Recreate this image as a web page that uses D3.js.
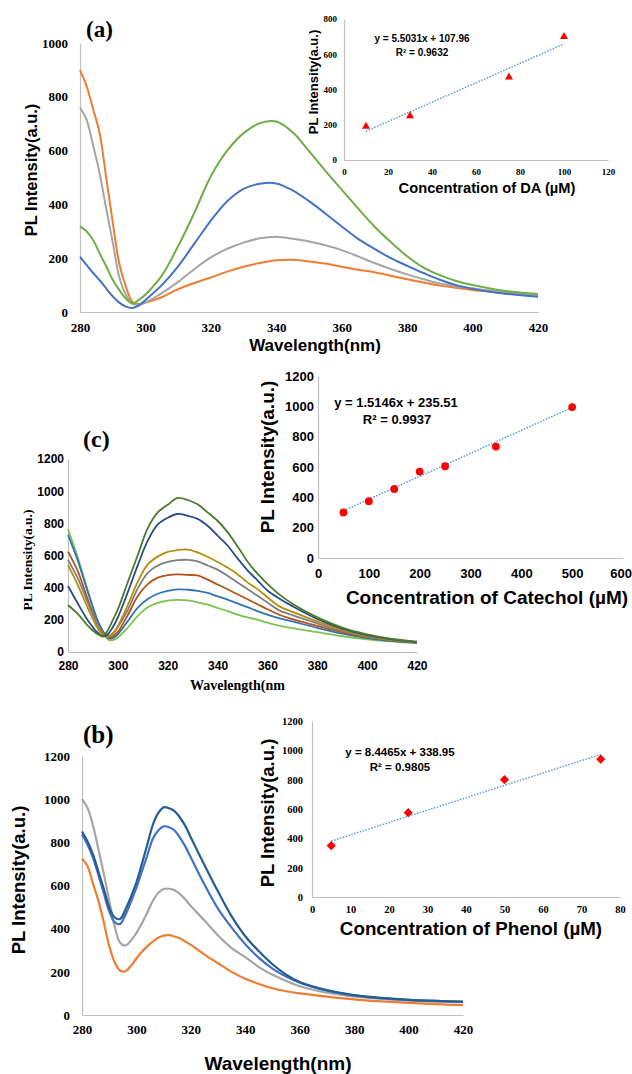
<!DOCTYPE html>
<html><head><meta charset="utf-8">
<script src="https://cdn.jsdelivr.net/npm/d3@7/dist/d3.min.js"></script>
<style>body{margin:0;background:#fff}svg{display:block}</style>
</head><body>
<script>
// ---------- Panel (a): DA ----------
const waveA = [280,282,284,286,288,290,292,294,296,298,300,305,310,315,320,325,330,335,340,345,350,355,360,365,370,375,380,385,390,395,400,405,410,415,420];
const aOrange = [900,840,755,665,500,335,180,95,38,30,35,55,85,108,128,150,168,182,192,194,188,180,168,157,148,135,122,110,98,90,82,76,70,65,60];
const aGray   = [760,715,620,516,385,260,130,65,30,27,35,70,112,160,203,235,258,274,280,272,262,248,230,207,182,160,140,122,106,96,88,80,72,66,60];
const aBlue   = [205,175,145,118,88,58,35,20,15,25,45,100,170,255,340,412,458,477,478,452,412,366,318,272,235,200,172,145,120,100,86,76,68,62,57];
const aGreen  = [318,300,268,218,170,120,82,50,32,45,65,135,245,370,505,600,665,702,708,668,598,525,455,385,318,260,207,165,137,115,100,88,78,72,67];
const aXTicks = [280,300,320,340,360,380,400,420];
const aYTicks = [0,200,400,600,800,1000];
const daConc = [10,30,75,100];
const daPL   = [190,250,470,700];
const daFit  = [5.5031,107.96];
const daXTicks = [0,20,40,60,80,100,120];
const daYTicks = [0,200,400,600,800];

// ---------- Panel (c): Catechol ----------
const waveC = [280,284,288,292,294,296,298,300,304,308,312,316,320,324,328,332,336,340,344,348,352,356,360,365,370,380,390,400,410,420];
const cDarkGreen  = [292,235,163,110,100,135,200,265,435,603,770,868,915,958,945,918,868,816,745,657,563,487,424,355,300,215,152,110,82,65];
const cDarkBlue   = [410,300,196,118,96,110,155,215,372,540,692,793,835,858,847,828,785,724,662,582,508,446,382,330,285,205,145,105,78,62];
const cGold       = [540,415,272,145,105,92,110,160,292,437,545,593,622,634,637,620,592,560,525,484,433,391,340,282,250,190,138,100,76,61];
const cGray       = [572,456,303,165,115,98,117,155,262,396,492,538,560,571,573,563,538,512,474,432,391,349,308,257,230,178,130,96,74,60];
const cBrown      = [624,500,325,168,118,90,97,125,230,348,422,462,478,483,479,476,450,420,390,359,328,297,266,230,205,162,122,92,72,59];
const cBlue       = [728,565,370,190,130,88,86,110,192,276,330,362,380,389,387,380,367,346,326,302,279,254,232,209,190,150,114,87,69,57];
const cLightGreen = [763,585,380,190,125,78,74,90,152,225,278,305,319,324,321,309,294,274,254,233,215,201,182,162,148,123,98,78,64,55];
const cXTicks = [280,300,320,340,360,380,400,420];
const cYTicks = [0,200,400,600,800,1000,1200];
const catConc = [50,100,150,200,250,350,500];
const catPL   = [300,375,455,570,605,735,995];
const catFit  = [1.5146,235.51];
const catXTicks = [0,100,200,300,400,500,600];
const catYTicks = [0,200,400,600,800,1000,1200];

// ---------- Panel (b): Phenol ----------
const waveB = [280,282,284,286,288,290,292,294,296,298,300,302,304,306,308,310,312,314,316,318,320,325,330,335,340,345,350,355,360,370,380,390,400,410,420];
const bGray      = [1000,960,880,770,655,530,410,335,322,345,380,425,475,528,565,584,585,578,560,535,505,438,368,310,268,222,186,158,133,103,86,74,66,62,60];
const bOrange    = [725,690,610,530,430,320,245,206,203,228,262,293,318,340,358,368,370,364,355,340,325,280,240,200,168,144,124,110,100,85,72,63,56,50,46];
const bLightBlue = [838,790,730,650,565,480,430,422,465,525,590,665,740,815,855,874,870,855,822,780,730,605,492,405,328,265,215,178,150,113,90,78,70,65,61];
const bDarkBlue  = [850,805,745,665,585,500,452,445,490,548,615,700,790,880,935,962,958,945,915,875,822,695,572,457,365,295,235,187,153,115,92,79,70,65,62];
const bXTicks = [280,300,320,340,360,380,400,420];
const bYTicks = [0,200,400,600,800,1000,1200];
const phConc = [5,25,50,75];
const phPL   = [350,575,800,940];
const phFit  = [8.4465,338.95];
const phXTicks = [0,10,20,30,40,50,60,70,80];
const phYTicks = [0,200,400,600,800,1000,1200];

// ---------- drawing ----------
const SANS = "'Liberation Sans', Arial, sans-serif";
const SERIF = "'Liberation Serif', 'Times New Roman', serif";
const AXIS = "#BFBFBF";
const svg = d3.select("body").append("svg").attr("width",632).attr("height",1074);

function styleAxis(g, font, size) {
  g.attr("font-family", font).attr("font-size", size).attr("font-weight","bold");
  g.select(".domain").attr("stroke", AXIS).attr("stroke-width", 1.2);
  g.selectAll(".tick line").remove();
  g.selectAll(".tick text").attr("fill","#000").style("font-family", font)
    .style("font-size", size+"px").style("font-weight","bold");
}

function drawAxes(o) {
  const x = d3.scaleLinear().domain(o.xd).range(o.xr);
  const y = d3.scaleLinear().domain(o.yd).range(o.yr);
  const gx = svg.append("g").attr("transform",`translate(0,${o.yr[0]})`)
    .call(d3.axisBottom(x).tickValues(o.xt).tickSize(0).tickSizeOuter(0).tickPadding(o.xpad).tickFormat(d3.format("d")));
  styleAxis(gx, o.tickFont, o.tickSize);
  const gy = svg.append("g").attr("transform",`translate(${o.xr[0]},0)`)
    .call(d3.axisLeft(y).tickValues(o.yt).tickSize(0).tickSizeOuter(0).tickPadding(o.ypad).tickFormat(d3.format("d")));
  styleAxis(gy, o.tickFont, o.tickSize);
  return {x, y, gx, gy};
}

function label(txt, x, y, font, size, opts={}) {
  const t = svg.append("text").text(txt).attr("font-family", font).attr("font-size", size)
    .attr("font-weight","bold").attr("fill","#000").attr("text-anchor", opts.anchor||"middle");
  if (opts.rotate) {
    t.attr("transform",`translate(${x},${y}) rotate(-90)`).attr("dominant-baseline","central");
  } else {
    t.attr("x", x).attr("y", y);
  }
  return t;
}

function drawSpectra(s, waves, series, colors, width) {
  const line = d3.line().x((d,i)=>s.x(waves[i])).y(d=>s.y(d)).curve(d3.curveCatmullRom.alpha(0.5));
  series.forEach((ser,k)=>{
    svg.append("path").datum(ser).attr("d", line).attr("fill","none")
      .attr("stroke", colors[k]).attr("stroke-width", width).attr("stroke-linejoin","round");
  });
}

function drawFit(s, conc, fit) {
  const x0 = d3.min(conc), x1 = d3.max(conc);
  svg.append("line").attr("x1", s.x(x0)).attr("y1", s.y(fit[0]*x0+fit[1]))
    .attr("x2", s.x(x1)).attr("y2", s.y(fit[0]*x1+fit[1]))
    .attr("stroke","#5B9BD5").attr("stroke-width",1.5).attr("stroke-dasharray","1.5 1.5");
}

// ===== Panel (a) =====
const sA = drawAxes({xd:[280,420], xr:[80,538], yd:[0,1000], yr:[312,43], xt:aXTicks, yt:aYTicks,
  tickFont:SERIF, tickSize:13, xpad:11, ypad:12});
drawSpectra(sA, waveA, [aOrange,aGray,aBlue,aGreen], ["#ED7D31","#A5A5A5","#4472C4","#70AD47"], 2);
label("PL Intensity(a.u.)", 31, 170, SANS, 16.5, {rotate:true});
label("Wavelength(nm)", 315, 351, SANS, 17);
label("(a)", 86, 37, SERIF, 23, {anchor:"start"});

const sAi = drawAxes({xd:[0,120], xr:[344,608], yd:[0,800], yr:[160,19], xt:daXTicks, yt:daYTicks,
  tickFont:SERIF, tickSize:9, xpad:9, ypad:7});
drawFit(sAi, daConc, daFit);
svg.append("g").selectAll("path").data(daConc).join("path")
  .attr("d", d3.symbol(d3.symbolTriangle, 28))
  .attr("transform",(d,i)=>`translate(${sAi.x(d)},${sAi.y(daPL[i])})`).attr("fill","#FF0000");
label("PL Intensity(a.u.)", 313, 82, SANS, 13, {rotate:true});
label("Concentration of DA (µM)", 487, 193, SANS, 14.7);
label(`y = ${daFit[0]}x + ${daFit[1]}`, 422, 41.5, SANS, 10);
label("R² = 0.9632", 422, 55.5, SANS, 10);

// ===== Panel (c) =====
const sC = drawAxes({xd:[280,420], xr:[68,417], yd:[0,1200], yr:[652,459], xt:cXTicks, yt:cYTicks,
  tickFont:SANS, tickSize:12, xpad:9, ypad:4});
drawSpectra(sC, waveC, [cLightGreen,cBlue,cBrown,cGray,cGold,cDarkBlue,cDarkGreen],
  ["#7CC352","#2E75B6","#B5531A","#7F7F7F","#B38E0A","#2B4C8C","#4A7A2C"], 1.8);
label("PL Intensity(a.u.)", 27, 560, SERIF, 13.5, {rotate:true});
label("Wavelength(nm", 190, 690, SERIF, 14, {anchor:"start"});
label("(c)", 83, 447, SERIF, 24, {anchor:"start"});

const sCi = drawAxes({xd:[0,600], xr:[318,623], yd:[0,1200], yr:[558,376], xt:catXTicks, yt:catYTicks,
  tickFont:SANS, tickSize:13, xpad:11, ypad:4});
// keep the last tick label inside the page edge
sCi.gx.selectAll(".tick text").filter(d=>d===600).attr("text-anchor","end").attr("dx", 8.5);
drawFit(sCi, catConc, catFit);
svg.append("g").selectAll("circle").data(catConc).join("circle")
  .attr("cx", d=>sCi.x(d)).attr("cy",(d,i)=>sCi.y(catPL[i])).attr("r",3.9).attr("fill","#FF0000");
label("PL Intensity(a.u.)", 267, 457, SANS, 19, {rotate:true});
label("Concentration of Catechol (µM)", 487, 604, SANS, 19);
label(`y = ${catFit[0]}x + ${catFit[1]}`, 396, 407, SANS, 13);
label("R² = 0.9937", 397, 424, SANS, 13);

// ===== Panel (b) =====
const sB = drawAxes({xd:[280,420], xr:[82,463], yd:[0,1200], yr:[1015,756], xt:bXTicks, yt:bYTicks,
  tickFont:SERIF, tickSize:13, xpad:10, ypad:12});
drawSpectra(sB, waveB, [bOrange,bGray,bLightBlue,bDarkBlue], ["#ED7D31","#A5A5A5","#4472C4","#255E91"], 2.2);
label("PL Intensity(a.u.)", 18, 880, SANS, 18.5, {rotate:true});
label("Wavelength(nm)", 278, 1070, SANS, 19);
label("(b)", 83, 743, SERIF, 25, {anchor:"start"});

const sBi = drawAxes({xd:[0,80], xr:[312,620], yd:[0,1200], yr:[897,721], xt:phXTicks, yt:phYTicks,
  tickFont:SERIF, tickSize:10.5, xpad:9, ypad:9});
drawFit(sBi, phConc, phFit);
svg.append("g").selectAll("path").data(phConc).join("path")
  .attr("d", d3.symbol(d3.symbolSquare, 42))
  .attr("transform",(d,i)=>`translate(${sBi.x(d)},${sBi.y(phPL[i])}) rotate(45)`).attr("fill","#FF0000");
label("PL Intensity(a.u.)", 267, 813, SANS, 18.5, {rotate:true});
label("Concentration of Phenol (µM)", 471, 935, SANS, 18.8);
label(`y = ${phFit[0]}x + ${phFit[1]}`, 400, 756, SANS, 11.5);
label("R² = 0.9805", 400, 771, SANS, 11.5);
</script>
</body></html>
